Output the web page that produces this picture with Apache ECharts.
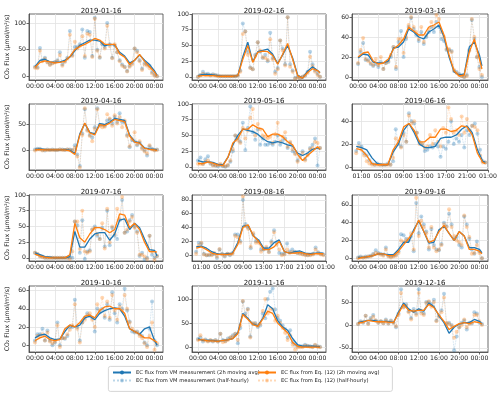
<!DOCTYPE html>
<html>
<head>
<meta charset="utf-8">
<script src="https://cdn.jsdelivr.net/npm/echarts@6/dist/echarts.min.js"></script>
<style>html,body{margin:0;padding:0;background:#fff}#chart{width:500px;height:394px}</style>
</head>
<body>
<div id="chart"></div>
<script>
// panel titles
const dates = ["2019-01-16", "2019-02-16", "2019-03-16", "2019-04-16", "2019-05-16", "2019-06-16",
               "2019-07-16", "2019-08-16", "2019-09-16", "2019-10-16", "2019-11-16", "2019-12-16"];

// time stamps in hours after midnight
const hourX = [0,1,2,3,4,5,6,7,8,9,10,11,12,13,14,15,16,17,18,19,20,21,22,23,24,24.5];
const halfX = [];
for (let k = 0; k < 50; k++) halfX.push(k * 0.5);

// tick labels
const hourTicks = [0, 4, 8, 12, 16, 20, 24];
const hourTicksAlt = [1, 5, 9, 13, 17, 21, 25];
const yTicks = [[0,50,100],[0,25,50,75,100],[0,20,40,60],[0,50],[0,25,50,75,100],[0,20,40],
                [0,25,50,75,100],[0,20,40,60,80],[0,20,40,60],[0,20,40,60],[0,50,100],[-50,0,50]];
const yMin = [-7, -5, -3, -38, -5, -2.6, -5, -8.5, -3, -7.5, -10, -59];
const yMax = [117, 100, 63, 90, 100, 55, 100, 87, 71, 65, 127, 85];

// 2h moving averages (hourly read-off)
const vmAvg01 = [18,30,32,27,26,27,30,36,48,58,63,68,68,66,57,60,59,45,38,25,30,40,30,22,10,2];
const eqAvg01 = [17,26,29,27,25,26,28,37,50,56,60,65,71,68,60,60,60,42,36,22,30,41,28,18,8,1];
const vmAvg02 = [2,4,4,3,2,1,1,1,2,32,55,24,40,42,44,36,21,35,50,30,3,-2,9,16,10,7];
const eqAvg02 = [1,2,2,2,1,1,1,1,2,28,50,23,39,41,40,34,20,36,53,28,2,-2,7,13,10,6];
const vmAvg03 = [19,23,22,15,14,14,16,29,30,35,48,45,40,38,45,48,52,40,20,5,2,3,30,35,22,11];
const eqAvg03 = [20,24,25,16,13,14,18,28,32,38,50,46,42,42,50,52,55,42,22,6,1,2,25,38,18,8];
const vmAvg04 = [2,3,2,1,1,1,2,0,-6,32,52,35,32,52,50,55,62,60,58,30,17,15,5,3,2,1];
const eqAvg04 = [1,2,1,1,1,1,1,-1,-8,30,53,34,30,50,48,53,60,58,56,28,16,14,4,2,1,0];
const vmAvg05 = [10,8,8,7,4,3,15,35,50,60,58,56,52,45,40,38,40,38,35,33,22,18,22,28,30,28];
const eqAvg05 = [5,5,8,6,3,2,15,38,45,60,60,67,62,60,48,52,52,48,40,35,20,10,18,25,32,28];
const vmAvg06 = [18,17,15,8,3,2,2,13,20,32,38,30,20,17,17,18,25,26,26,28,33,36,30,15,5,4];
const eqAvg06 = [16,15,10,3,2,2,2,15,22,35,38,32,22,22,26,26,33,33,31,32,36,35,28,12,4,3];
const vmAvg07 = [8,5,2,1,0,0,0,2,42,17,17,30,38,40,40,28,38,60,62,45,55,48,30,13,12,3];
const eqAvg07 = [6,3,1,0,0,0,0,5,55,32,25,38,48,48,45,40,45,70,68,48,55,45,25,10,10,9];
const vmAvg08 = [12,13,10,5,2,1,2,3,18,42,43,28,22,10,10,18,22,5,3,5,6,3,2,3,3,3];
const eqAvg08 = [10,12,8,3,1,1,1,2,15,40,44,28,20,8,8,12,20,5,3,3,4,2,1,2,2,2];
const vmAvg09 = [1,1,2,3,5,5,4,4,10,18,18,32,42,30,17,18,32,36,28,20,30,25,12,12,10,6];
const eqAvg09 = [0,1,2,3,5,5,3,3,8,15,22,30,43,30,18,20,30,37,28,20,30,25,10,10,8,5];
const vmAvg10 = [8,11,12,8,6,7,15,22,20,22,30,32,28,35,38,40,41,40,32,18,15,12,18,20,5,0];
const eqAvg10 = [5,8,10,6,5,6,18,22,20,25,32,33,30,38,42,43,40,40,35,18,15,12,8,8,5,3];
const vmAvg11 = [17,14,14,14,12,14,15,18,30,70,60,48,45,60,88,80,55,42,35,18,5,2,2,2,1,1];
const eqAvg11 = [15,15,13,13,12,14,15,18,28,68,58,47,43,58,75,70,50,40,30,10,2,0,0,0,0,0];
const vmAvg12 = [5,8,10,10,8,8,8,5,28,48,35,28,35,30,48,40,20,5,-18,-5,2,5,5,12,8,2];
const eqAvg12 = [4,6,10,8,7,7,6,5,25,45,32,30,32,32,45,38,22,8,-10,-3,3,5,3,7,5,2];

// half-hourly values
const vmHalf01 = [18,17,53,30,35,27,22,25,27,30,45,22,28,35,85,40,55,55,60,88,35,85,83,38,110,50,35,60,55,100,60,35,58,45,30,22,18,10,20,25,52,48,30,14,25,22,20,8,3,0];
const eqHalf01 = [16,15,48,28,33,26,21,24,26,28,40,20,27,33,78,38,65,52,57,75,38,80,78,36,108,48,36,62,52,95,57,34,60,45,28,20,17,9,18,22,52,45,28,12,22,20,15,5,1,0];
const vmHalf02 = [0,3,8,4,5,3,4,3,2,1,1,1,1,1,1,1,2,10,85,72,40,15,12,35,55,40,30,35,25,70,30,8,14,58,45,20,95,20,10,-2,0,-2,0,2,8,40,20,10,5,0];
const eqHalf02 = [0,2,5,3,3,2,3,2,1,1,1,1,1,1,1,1,2,8,68,72,35,14,12,33,55,42,31,30,27,60,28,5,12,58,42,18,95,16,8,-3,-1,-2,0,2,6,32,17,8,3,0];
const vmHalf03 = [13,25,34,17,17,13,11,13,10,15,8,14,15,20,30,8,35,46,20,38,50,59,48,42,36,45,33,40,45,50,45,55,50,38,36,27,27,26,6,5,3,1,0,2,27,57,38,20,10,0];
const eqHalf03 = [14,27,39,18,16,14,12,18,12,20,8,14,16,22,30,10,38,38,24,40,52,60,50,45,38,50,35,42,48,55,50,62,58,45,40,28,28,25,7,4,2,1,0,1,26,58,40,20,8,2];
const vmHalf04 = [2,3,3,1,0,2,1,2,1,1,2,2,1,2,2,1,10,-8,-30,33,80,40,30,25,45,82,50,50,48,58,60,52,65,55,72,55,55,30,6,20,18,10,15,5,0,-10,8,3,1,2];
const eqHalf04 = [0,2,2,0,1,1,1,1,1,1,2,1,1,2,1,0,5,-12,-33,30,82,38,28,18,42,80,48,45,46,70,62,48,68,52,65,45,58,28,8,22,35,12,18,3,-2,-6,10,2,0,1];
const vmHalf05 = [10,15,5,12,17,5,3,2,1,3,1,0,2,8,25,50,45,40,70,27,62,96,55,43,60,35,45,35,35,38,35,40,50,35,42,45,30,38,25,22,10,18,25,12,20,30,35,45,2,30];
const eqHalf05 = [5,5,4,8,10,6,2,2,3,5,2,1,3,10,28,50,42,38,62,45,58,78,92,50,68,60,50,48,45,48,38,52,70,40,48,55,32,40,28,20,8,15,22,10,18,28,30,40,38,30];
const vmHalf06 = [14,21,18,12,10,6,3,2,3,2,2,2,3,2,5,33,20,18,30,22,47,40,38,30,22,20,14,15,18,17,20,18,9,18,16,22,40,20,25,22,28,17,32,28,36,38,29,15,5,4];
const eqHalf06 = [12,18,15,10,5,3,2,2,2,2,2,2,2,2,8,25,22,17,28,22,45,38,40,30,20,20,17,18,28,20,32,22,18,34,30,52,42,30,32,28,44,30,42,32,36,35,32,10,4,4];
const vmHalf07 = [8,6,3,2,0,0,0,0,0,0,0,0,0,0,0,0,58,52,8,60,-2,10,12,45,50,35,30,48,18,75,20,48,35,30,60,92,40,42,60,68,50,42,3,8,-3,0,35,5,0,3];
const eqHalf07 = [8,6,2,1,0,0,0,0,0,0,0,0,0,0,-2,10,58,58,14,75,10,8,10,45,47,38,30,55,15,78,25,50,38,78,62,97,40,45,58,65,48,40,5,5,2,-2,35,10,-3,3];
const vmHalf08 = [5,18,17,2,0,0,1,2,-4,8,2,-2,2,0,3,30,30,20,80,45,40,10,30,20,20,8,8,10,5,20,36,18,3,2,2,17,5,8,5,3,3,2,1,0,1,2,11,4,2,1];
const eqHalf08 = [2,14,18,1,0,1,0,3,-2,9,1,-1,2,1,2,28,26,18,85,42,38,12,32,18,18,5,9,12,4,18,33,15,8,0,1,8,3,4,4,3,2,1,0,0,0,1,8,3,1,0];
const vmHalf09 = [1,2,1,2,2,3,5,9,6,5,4,12,3,2,3,4,8,27,26,22,20,25,8,62,28,47,38,30,10,33,15,10,9,16,40,36,50,38,22,24,15,12,47,38,22,10,5,19,8,0];
const eqHalf09 = [0,1,1,1,2,2,4,6,5,4,3,10,2,1,2,3,6,20,18,20,22,28,10,68,25,42,35,28,12,35,12,8,10,15,38,35,55,35,25,20,18,15,48,35,24,5,6,15,6,0];
const vmHalf10 = [5,12,12,18,5,16,5,0,3,25,0,8,7,10,20,20,50,20,5,25,30,35,32,30,15,40,36,40,30,45,28,58,35,25,45,40,62,38,26,15,14,15,12,10,3,0,18,48,5,0];
const eqHalf10 = [3,10,10,12,5,14,4,2,4,22,-2,8,8,12,17,22,45,18,3,25,28,33,35,28,20,45,38,52,32,48,30,55,38,28,42,38,55,40,25,18,15,14,10,8,2,-2,10,25,-5,2];
const vmHalf11 = [17,20,12,16,13,14,12,15,12,28,15,13,18,20,25,28,8,40,95,70,80,22,48,50,42,45,70,60,100,115,122,78,60,55,45,38,20,35,10,5,3,2,2,5,3,2,1,4,2,1];
const eqHalf11 = [15,25,15,14,12,15,13,14,12,28,10,12,15,20,22,28,15,45,96,65,78,20,50,48,44,48,75,100,70,80,78,55,65,50,40,30,15,25,5,-5,0,0,0,3,2,1,0,5,1,0];
const vmHalf12 = [2,8,5,20,3,15,22,10,5,8,4,12,3,10,5,-5,25,78,40,45,30,15,35,25,78,30,25,50,50,45,55,10,20,32,68,2,5,0,-55,-25,-5,5,10,-10,5,3,28,25,5,2];
const eqHalf12 = [2,6,6,20,2,12,18,10,5,8,4,10,3,8,5,-3,22,70,38,42,28,12,30,22,70,25,22,48,52,40,50,8,18,28,60,5,2,-2,-28,-15,-5,0,12,-5,2,5,22,22,8,0];

const vmAvgs = [vmAvg01,vmAvg02,vmAvg03,vmAvg04,vmAvg05,vmAvg06,vmAvg07,vmAvg08,vmAvg09,vmAvg10,vmAvg11,vmAvg12];
const eqAvgs = [eqAvg01,eqAvg02,eqAvg03,eqAvg04,eqAvg05,eqAvg06,eqAvg07,eqAvg08,eqAvg09,eqAvg10,eqAvg11,eqAvg12];
const vmHalfs = [vmHalf01,vmHalf02,vmHalf03,vmHalf04,vmHalf05,vmHalf06,vmHalf07,vmHalf08,vmHalf09,vmHalf10,vmHalf11,vmHalf12];
const eqHalfs = [eqHalf01,eqHalf02,eqHalf03,eqHalf04,eqHalf05,eqHalf06,eqHalf07,eqHalf08,eqHalf09,eqHalf10,eqHalf11,eqHalf12];

const VM_AVG = "EC flux from VM measurement (2h moving avg)";
const VM_HH = "EC flux from VM measurement (half-hourly)";
const EQ_AVG = "EC flux from Eq. (12) (2h moving avg)";
const EQ_HH = "EC flux from Eq. (12) (half-hourly)";

const BLUE = "#1f77b4";
const ORANGE = "#ff7f0e";
const FONT = "DejaVu Sans";

// layout of the 4x3 grid
const gridLeft = [29, 192, 352];
const gridWidth = [134, 134, 136];
const gridTop = [14, 104, 195, 286];
const gridHeight = 66;

const zip = (xs, ys) => ys.map((v, k) => [xs[k], v]);
const hourLabel = v => String(((v % 24) + 24) % 24).padStart(2, "0") + ":00";

const grids = [], xAxes = [], yAxes = [], titles = [], series = [];

for (let i = 0; i < 12; i++) {
    const row = Math.floor(i / 3), col = i % 3;
    const alt = (i === 5 || i === 7); // panels with 01:00-based ticks
    grids.push({
        left: gridLeft[col], top: gridTop[row], width: gridWidth[col], height: gridHeight,
        show: true, borderColor: "#444", borderWidth: 0.8
    });
    titles.push({
        text: dates[i], left: gridLeft[col] + gridWidth[col] / 2, top: gridTop[row] - 11,
        textAlign: "center",
        textStyle: { fontSize: 7, fontWeight: "normal", color: "#111", fontFamily: FONT }
    });
    const xt = alt ? hourTicksAlt : hourTicks;
    xAxes.push({
        type: "value", gridIndex: i,
        min: alt ? -0.8 : -1.2, max: alt ? 25 : 25.7,
        axisLine: { show: true, onZero: false, lineStyle: { color: "#444", width: 0.8 } },
        axisTick: { show: true, length: 2.5, customValues: xt, lineStyle: { color: "#444", width: 0.8 } },
        axisLabel: { customValues: xt, formatter: hourLabel, fontSize: 6.2, color: "#222", margin: 3, fontFamily: FONT },
        splitLine: { show: true, lineStyle: { color: "#e2e2e2", width: 0.8 } }
    });
    const y = {
        type: "value", gridIndex: i, min: yMin[i], max: yMax[i],
        axisLine: { show: true, onZero: false, lineStyle: { color: "#444", width: 0.8 } },
        axisTick: { show: true, length: 2.5, customValues: yTicks[i], lineStyle: { color: "#444", width: 0.8 } },
        axisLabel: { customValues: yTicks[i], fontSize: 6.2, color: "#222", margin: 3, fontFamily: FONT },
        splitLine: { show: true, lineStyle: { color: "#e2e2e2", width: 0.8 } }
    };
    if (col === 0) {
        y.name = "CO₂ Flux (μmol/m²/s)";
        y.nameLocation = "middle";
        y.nameGap = 19;
        y.nameTextStyle = { fontSize: 6.2, color: "#222", fontFamily: FONT };
    }
    yAxes.push(y);

    series.push({
        name: VM_HH, type: "line", xAxisIndex: i, yAxisIndex: i, data: zip(halfX, vmHalfs[i]),
        symbol: "circle", symbolSize: 4, z: 1,
        itemStyle: { color: "rgba(31,119,180,0.32)" },
        lineStyle: { type: "dotted", width: 0.8, color: "rgba(31,119,180,0.3)" }
    });
    series.push({
        name: EQ_HH, type: "line", xAxisIndex: i, yAxisIndex: i, data: zip(halfX, eqHalfs[i]),
        symbol: "circle", symbolSize: 4, z: 1,
        itemStyle: { color: "rgba(255,127,14,0.32)" },
        lineStyle: { type: "dotted", width: 0.8, color: "rgba(255,127,14,0.3)" }
    });
    series.push({
        name: VM_AVG, type: "line", xAxisIndex: i, yAxisIndex: i, data: zip(hourX, vmAvgs[i]),
        symbol: "none", z: 3, itemStyle: { color: BLUE }, lineStyle: { width: 1.3, color: BLUE }
    });
    series.push({
        name: EQ_AVG, type: "line", xAxisIndex: i, yAxisIndex: i, data: zip(hourX, eqAvgs[i]),
        symbol: "none", z: 4, itemStyle: { color: ORANGE }, lineStyle: { width: 1.3, color: ORANGE }
    });
}

const legendText = { fontSize: 5.2, color: "#222", fontFamily: FONT };

const option = {
    animation: false,
    backgroundColor: "#fff",
    title: titles,
    grid: grids,
    xAxis: xAxes,
    yAxis: yAxes,
    series: series,
    legend: [
        { data: [VM_AVG, VM_HH], orient: "vertical", left: 112, top: 370, itemGap: 3, padding: 0,
          itemWidth: 18, itemHeight: 5, textStyle: legendText },
        { data: [EQ_AVG, EQ_HH], orient: "vertical", left: 257, top: 370, itemGap: 3, padding: 0,
          itemWidth: 18, itemHeight: 5, textStyle: legendText }
    ],
    graphic: [{
        type: "rect", left: 108, top: 366, z: 0,
        shape: { width: 284, height: 25, r: 2 },
        style: { fill: "#fff", stroke: "#ccc", lineWidth: 0.8 }
    }]
};

const chart = echarts.init(document.getElementById("chart"));
chart.setOption(option);
</script>
</body>
</html>
